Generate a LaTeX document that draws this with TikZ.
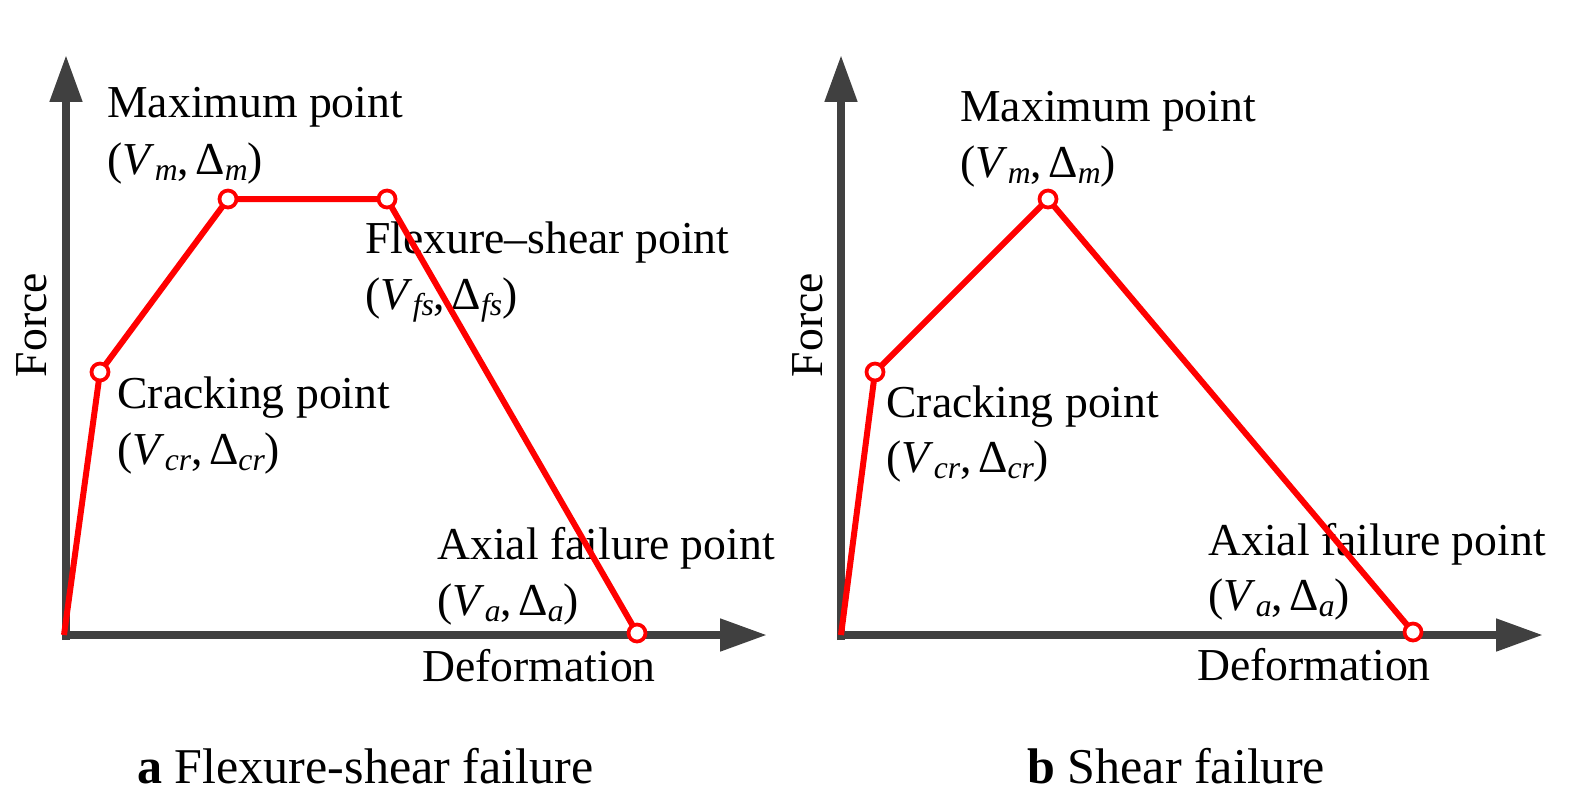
\documentclass[tikz,border=0pt]{standalone}
\usepackage{fontspec}
\setmainfont{Liberation Serif}
\usetikzlibrary{arrows.meta}
\definecolor{axisgray}{HTML}{404040}
\newcommand{\lo}[1]{\raisebox{-3.5pt}{\fontsize{18}{18}\selectfont\textit{#1}}}
\newcommand{\gap}{\hspace{0.14em}}

\begin{document}
\begin{tikzpicture}[x=0.02cm, y=-0.02cm,
		every node/.style={font=\fontsize{26}{30}\selectfont, inner sep=0pt},
		lbl/.style={anchor=base west},
		caption/.style={anchor=base west, font=\fontsize{28.5}{32}\selectfont},
		axis/.style={draw=axisgray, line width=0.16cm, -{Triangle[length=0.94cm, width=0.62cm]}},
		curve/.style={draw=red, line width=0.12cm, line join=round},
		pt/.style={circle, draw=red, fill=white, line width=0.075cm, minimum size=0.34cm}]
	\useasboundingbox (0,0) rectangle (1594,799);

	% a: flexure-shear failure
	\coordinate (oa) at (64, 635);
	\coordinate (ya) at (66, 55);
	\coordinate (xa) at (767, 635);
	\coordinate (cra) at (100, 372);
	\coordinate (ma) at (228, 199);
	\coordinate (fsa) at (387, 199);
	\coordinate (axa) at (637, 633);

	\draw[axis] (66, 640) -- (ya);
	\draw[axis] (62, 635) -- (xa);

	\node[lbl] (tma) at (107, 117) {Maximum point};
	\node[lbl] (vma) at (107, 174) {(\textit{V}\lo{m},\gap Δ\lo{m})};
	\node[lbl] (tfsa) at (365, 253) {Flexure–shear point};
	\node[lbl] (vfsa) at (365, 309) {(\textit{V}\lo{fs},\gap Δ\lo{fs})};
	\node[lbl] (tcra) at (117, 408) {Cracking point};
	\node[lbl] (vcra) at (117, 464) {(\textit{V}\lo{cr},\gap Δ\lo{cr})};
	\node[lbl] (taxa) at (437, 559) {Axial failure point};
	\node[lbl] (vaxa) at (437, 615) {(\textit{V}\lo{a},\gap Δ\lo{a})};
	\node[lbl] (defa) at (422, 681) {Deformation};
	\node[anchor=base, rotate=90] (fora) at (46, 325) {Force};
	\node[caption] (capa) at (137, 783) {\textbf{a} Flexure-shear failure};

	\draw[curve] (oa) -- (cra) -- (ma) -- (fsa) -- (axa);
	\node[pt] (pcra) at (cra) {};
	\node[pt] (pma) at (ma) {};
	\node[pt] (pfsa) at (fsa) {};
	\node[pt] (paxa) at (axa) {};

	% b: shear failure
	\coordinate (ob) at (841, 635);
	\coordinate (yb) at (841, 55);
	\coordinate (xb) at (1543, 635);
	\coordinate (crb) at (875, 372);
	\coordinate (mb) at (1048, 199);
	\coordinate (axb) at (1413, 632);

	\draw[axis] (841, 640) -- (yb);
	\draw[axis] (837, 635) -- (xb);

	\node[lbl] (tmb) at (960, 121) {Maximum point};
	\node[lbl] (vmb) at (960, 177) {(\textit{V}\lo{m},\gap Δ\lo{m})};
	\node[lbl] (tcrb) at (886, 417) {Cracking point};
	\node[lbl] (vcrb) at (886, 472) {(\textit{V}\lo{cr},\gap Δ\lo{cr})};
	\node[lbl] (taxb) at (1208, 555) {Axial failure point};
	\node[lbl] (vaxb) at (1208, 610) {(\textit{V}\lo{a},\gap Δ\lo{a})};
	\node[lbl] (defb) at (1197, 680) {Deformation};
	\node[anchor=base, rotate=90] (forb) at (822, 325) {Force};
	\node[caption] (capb) at (1027, 783) {\textbf{b} Shear failure};

	\draw[curve] (ob) -- (crb) -- (mb) -- (axb);
	\node[pt] (pcrb) at (crb) {};
	\node[pt] (pmb) at (mb) {};
	\node[pt] (paxb) at (axb) {};
\end{tikzpicture}
\end{document}
